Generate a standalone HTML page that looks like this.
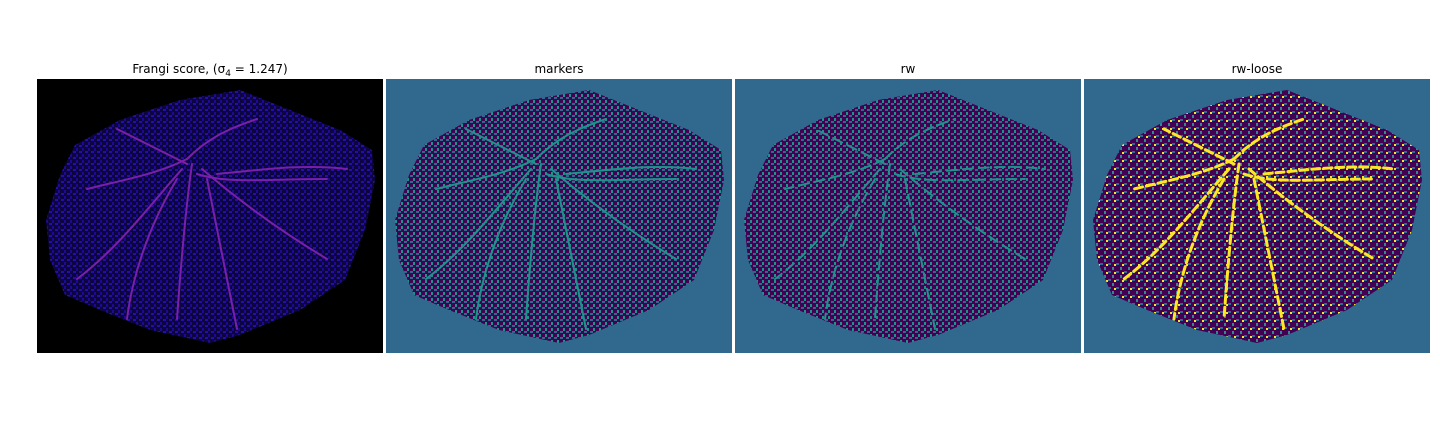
<!DOCTYPE html>
<html><head><meta charset="utf-8"><style>
body{margin:0;background:#fff;width:1440px;height:432px;overflow:hidden;font-family:"DejaVu Sans","Liberation Sans",sans-serif}
</style></head><body>
<svg width="1440" height="432" xmlns="http://www.w3.org/2000/svg">
<defs>
<pattern id="pf" width="6" height="6" patternUnits="userSpaceOnUse">
<rect width="6" height="6" fill="#0b0540"/>
<rect x="0" y="0" width="3" height="2" fill="#2a0ca8"/><rect x="3" y="3" width="2" height="3" fill="#1d0a90"/>
</pattern>
<pattern id="pm" width="6" height="6" patternUnits="userSpaceOnUse">
<rect width="6" height="6" fill="#440154"/>
<rect x="0" y="0" width="3" height="2" fill="#31688e"/><rect x="3" y="3" width="2" height="3" fill="#21918c"/>
</pattern>
<pattern id="pl" width="8" height="8" patternUnits="userSpaceOnUse">
<rect width="8" height="8" fill="#440154"/>
<rect x="0" y="0" width="3" height="2" fill="#31688e"/><rect x="4" y="4" width="2" height="3" fill="#21918c"/><rect x="6" y="1" width="2" height="2" fill="#fde725"/>
</pattern>
<polygon id="blob" points="23,96 38,66 83,41 143,21 203,11 253,31 303,51 335,71 338,101 328,151 308,201 263,231 203,256 173,264 113,251 63,231 28,216 13,181 9,141"/>
<g id="vessels" fill="none" stroke-linecap="round">
<path d="M150,80 C120,95 90,100 50,110"/>
<path d="M150,80 C170,60 190,50 220,40"/>
<path d="M155,85 C150,120 145,170 140,240"/>
<path d="M165,90 C200,120 240,150 290,180"/>
<path d="M160,95 C190,105 230,100 290,100"/>
<path d="M145,90 C110,130 80,170 40,200"/>
<path d="M150,85 C120,70 100,60 80,50"/>
<path d="M170,100 C180,150 190,200 200,250"/>
<path d="M140,100 C110,150 95,200 90,240"/>
<path d="M180,95 C230,90 270,85 310,90"/>
</g>
</defs>
<g>
<text x="210" y="73" text-anchor="middle" font-size="12">Frangi score, (σ<tspan font-size="9" dy="3">4</tspan><tspan dy="-3"> = 1.247)</tspan></text>
<rect x="37" y="79" width="346" height="274" fill="#000"/>
<use href="#blob" x="37" y="79" fill="url(#pf)"/>
<use href="#vessels" x="37" y="79" stroke="#7a1fa8" stroke-width="2"/>
</g>
<g>
<text x="559" y="73" text-anchor="middle" font-size="12">markers</text>
<rect x="386" y="79" width="346" height="274" fill="#31688e"/>
<use href="#blob" x="386" y="79" fill="url(#pm)"/>
<use href="#vessels" x="386" y="79" stroke="#21918c" stroke-width="2"/>
</g>
<g>
<text x="908" y="73" text-anchor="middle" font-size="12">rw</text>
<rect x="735" y="79" width="346" height="274" fill="#31688e"/>
<use href="#blob" x="735" y="79" fill="url(#pm)"/>
<use href="#vessels" x="735" y="79" stroke="#21918c" stroke-width="2" stroke-dasharray="10 6"/>
</g>
<g>
<text x="1257" y="73" text-anchor="middle" font-size="12">rw-loose</text>
<rect x="1084" y="79" width="346" height="274" fill="#31688e"/>
<use href="#blob" x="1084" y="79" fill="url(#pl)"/>
<use href="#vessels" x="1084" y="79" stroke="#fde725" stroke-width="3" stroke-dasharray="8 4"/>
</g>
</svg>
</body></html>
